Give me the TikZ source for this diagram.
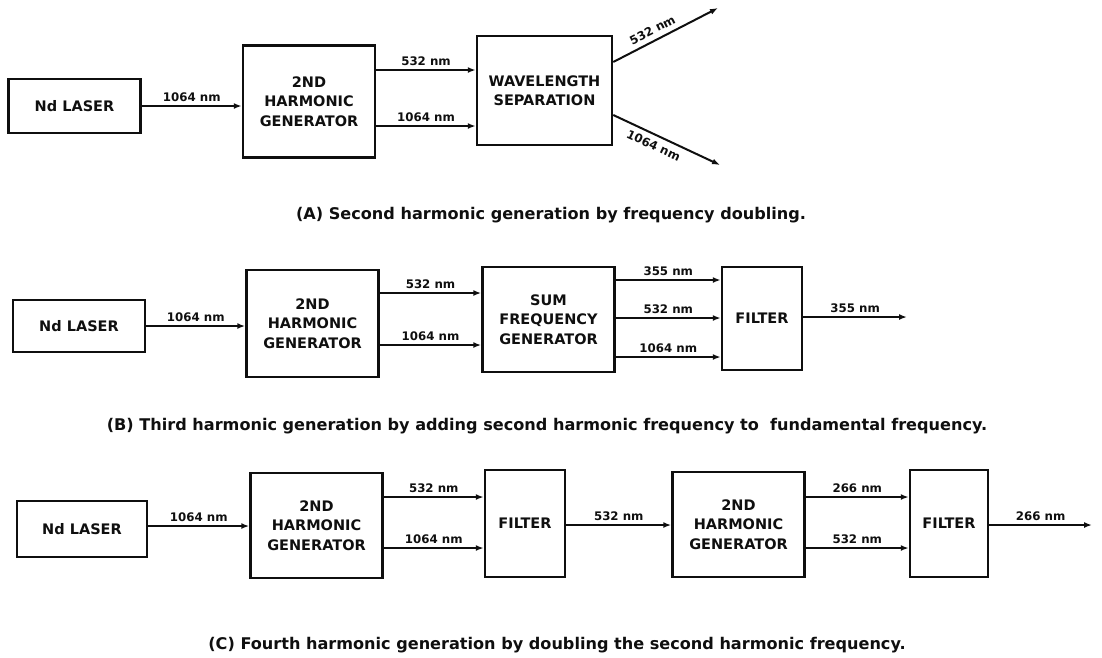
\documentclass[tikz,border=0pt]{standalone}
\usepackage{fontspec}
\setmainfont{DejaVu Sans}
\usepackage{tikz}
\usetikzlibrary{arrows.meta, calc}
\definecolor{inkclr}{RGB}{15,15,15}
\tikzset{
  % Bloklar
  blockbox/.style  = {draw=inkclr, line width=2.5pt, align=center, inner sep=0pt,
                      text=inkclr, font=\fontsize{14.5}{19.5}\selectfont\bfseries},
  laserbox/.style  = {blockbox, minimum width=132pt, minimum height=54pt},
  genbox/.style    = {blockbox, minimum width=132pt, minimum height=107pt},
  filterbox/.style = {blockbox, minimum width=79pt, minimum height=105pt},
  % Nurlar
  beamline/.style  = {-{Latex[length=8pt,width=6pt]}, line width=2pt, draw=inkclr},
  beamlabel/.style = {font=\fontsize{11.8}{12}\selectfont\bfseries, inner sep=3pt, text=inkclr},
  % Yozuvlar
  captxt/.style    = {font=\fontsize{16.1}{18}\selectfont\bfseries, text=inkclr},
}
\begin{document}
\begin{tikzpicture}[x=1pt, y=-1pt]
  \useasboundingbox (0,0) rectangle (1102,657);
  % (A) ikkinchi garmonika
  \node[laserbox] (lasA) at (74.5,106) {Nd LASER};
  \node[genbox, minimum height=112pt] (shgA) at (309,101.5) {2ND\\HARMONIC\\GENERATOR};
  \node[blockbox, minimum width=135pt, minimum height=109pt] (wsA) at (544.5,90.5) {WAVELENGTH\\SEPARATION};
  \coordinate (outA1) at (718,8);
  \coordinate (outA2) at (720,165);
  \draw[beamline] (lasA.east) -- (lasA.east -| shgA.west) node[midway, above, beamlabel] {1064 nm};
  \draw[beamline] (shgA.east |- 0,70) -- (wsA.west |- 0,70) node[midway, above, beamlabel] {532 nm};
  \draw[beamline] (shgA.east |- 0,126) -- (wsA.west |- 0,126) node[midway, above, beamlabel] {1064 nm};
  \draw[beamline] (wsA.east |- 0,62) -- (outA1) node[pos=0.42, above=2pt, sloped, beamlabel] {532 nm};
  \draw[beamline] (wsA.east |- 0,115) -- (outA2) node[pos=0.42, below=2pt, sloped, beamlabel] {1064 nm};
  \node[captxt] (capA) at (551,215) {(A) Second harmonic generation by frequency doubling.};

  % (B) uchinchi garmonika
  \node[laserbox, minimum height=52pt] (lasB) at (79,326) {Nd LASER};
  \node[genbox] (shgB) at (312.5,323.5) {2ND\\HARMONIC\\GENERATOR};
  \node[genbox, minimum height=105pt] (sfgB) at (548.5,319.5) {SUM\\FREQUENCY\\GENERATOR};
  \node[filterbox, minimum width=80pt, minimum height=103pt] (filB) at (762,318.5) {FILTER};
  \coordinate (outB) at (907,317);
  \draw[beamline] (lasB.east) -- (lasB.east -| shgB.west) node[midway, above, beamlabel] {1064 nm};
  \draw[beamline] (shgB.east |- 0,293) -- (sfgB.west |- 0,293) node[midway, above, beamlabel] {532 nm};
  \draw[beamline] (shgB.east |- 0,345) -- (sfgB.west |- 0,345) node[midway, above, beamlabel] {1064 nm};
  \draw[beamline] (sfgB.east |- 0,280) -- (filB.west |- 0,280) node[midway, above, beamlabel] {355 nm};
  \draw[beamline] (sfgB.east |- 0,318) -- (filB.west |- 0,318) node[midway, above, beamlabel] {532 nm};
  \draw[beamline] (sfgB.east |- 0,357) -- (filB.west |- 0,357) node[midway, above, beamlabel] {1064 nm};
  \draw[beamline] (filB.east |- outB) -- (outB) node[midway, above, beamlabel] {355 nm};
  \node[captxt] (capB) at (547,426) {(B) Third harmonic generation by adding second harmonic frequency to \ fundamental frequency.};

  % (C) to'rtinchi garmonika
  \node[laserbox, minimum width=130pt, minimum height=56pt] (lasC) at (82,529) {Nd LASER};
  \node[genbox, minimum height=105pt] (shgC) at (316.5,525.5) {2ND\\HARMONIC\\GENERATOR};
  \node[filterbox, minimum width=80pt, minimum height=107pt] (filC) at (525,523.5) {FILTER};
  \node[genbox, minimum height=105pt] (shgD) at (738.5,524.5) {2ND\\HARMONIC\\GENERATOR};
  \node[filterbox, minimum width=78pt, minimum height=107pt] (filD) at (949,523.5) {FILTER};
  \coordinate (outC) at (1092,525);
  \draw[beamline] (lasC.east |- 0,526) -- (shgC.west |- 0,526) node[midway, above, beamlabel] {1064 nm};
  \draw[beamline] (shgC.east |- 0,497) -- (filC.west |- 0,497) node[midway, above, beamlabel] {532 nm};
  \draw[beamline] (shgC.east |- 0,548) -- (filC.west |- 0,548) node[midway, above, beamlabel] {1064 nm};
  \draw[beamline] (filC.east |- 0,525) -- (shgD.west |- 0,525) node[midway, above, beamlabel] {532 nm};
  \draw[beamline] (shgD.east |- 0,497) -- (filD.west |- 0,497) node[midway, above, beamlabel] {266 nm};
  \draw[beamline] (shgD.east |- 0,548) -- (filD.west |- 0,548) node[midway, above, beamlabel] {532 nm};
  \draw[beamline] (filD.east |- outC) -- (outC) node[midway, above, beamlabel] {266 nm};
  \node[captxt] (capC) at (557,645) {(C) Fourth harmonic generation by doubling the second harmonic frequency.};
\end{tikzpicture}
\end{document}
